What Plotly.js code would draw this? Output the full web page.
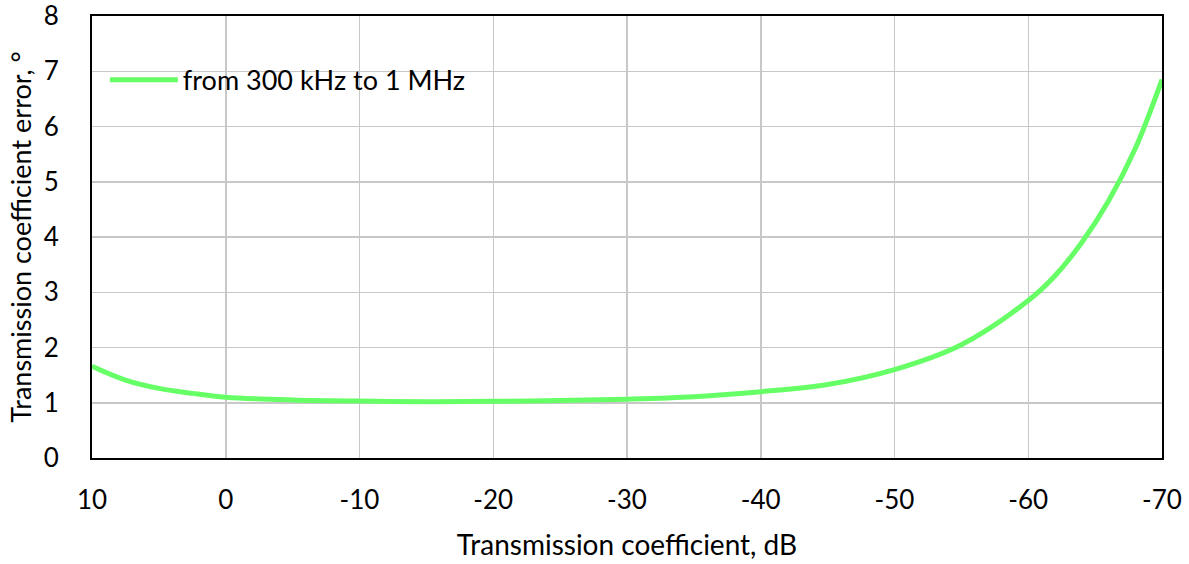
<!DOCTYPE html>
<html>
<head>
<meta charset="utf-8">
<script src="https://cdn.plot.ly/plotly-3.0.1.min.js"></script>
<style>html,body{margin:0;padding:0;background:#fff;}#chart{width:1189px;height:564px;}</style>
</head>
<body>
<div id="chart"></div>
<script>
const transmissionDb = [10, 7.5, 5, 2.5, 0, -5, -10, -15, -20, -25, -30, -35, -40, -45, -50, -55, -60, -62, -64, -66, -68, -70];
const errorDeg = [1.66, 1.41, 1.26, 1.17, 1.10, 1.05, 1.03, 1.02, 1.025, 1.04, 1.065, 1.11, 1.20, 1.33, 1.60, 2.05, 2.85, 3.3, 3.9, 4.65, 5.6, 6.85];
const seriesName = 'from 300 kHz to 1 MHz';
const xTicks = [10, 0, -10, -20, -30, -40, -50, -60, -70];
const yTicks = [0, 1, 2, 3, 4, 5, 6, 7, 8];

const font = 'Lato, "Noto Sans", sans-serif';

Plotly.newPlot('chart', [{
  x: transmissionDb,
  y: errorDeg,
  name: seriesName,
  type: 'scatter',
  mode: 'lines',
  line: {color: '#66ff66', width: 5, shape: 'spline', smoothing: 1.0},
  showlegend: true
}], {
  width: 1189, height: 564,
  margin: {l: 92, r: 27, t: 16, b: 106},
  paper_bgcolor: '#ffffff', plot_bgcolor: '#ffffff',
  font: {family: font, size: 26, color: '#000'},
  showlegend: true,
  legend: {x: 0.012, y: 0.855, xanchor: 'left', yanchor: 'middle', bgcolor: 'rgba(0,0,0,0)',
           font: {family: font, size: 27, color: '#000'}, itemwidth: 68, tracegroupgap: 0},
  xaxis: {
    range: [10, -70], tickvals: xTicks, ticktext: xTicks.map(String),
    showgrid: true, gridcolor: '#c8c8c8', gridwidth: 1.5,
    showline: true, linecolor: '#000', linewidth: 2, mirror: true,
    ticks: 'outside', ticklen: 18, tickcolor: 'rgba(0,0,0,0)',
    zeroline: false, ticklabeloverflow: 'allow',
    tickfont: {family: font, size: 26},
    title: {text: 'Transmission coefficient, dB', font: {family: font, size: 28}, standoff: 21}
  },
  yaxis: {
    range: [0, 8], tickvals: yTicks,
    showgrid: true, gridcolor: '#c8c8c8', gridwidth: 1.5,
    showline: true, linecolor: '#000', linewidth: 2, mirror: true,
    ticks: 'outside', ticklen: 26, tickcolor: 'rgba(0,0,0,0)',
    zeroline: false, ticklabeloverflow: 'allow',
    tickfont: {family: font, size: 26},
    title: {text: 'Transmission coefficient error, °', font: {family: font, size: 27}, standoff: 4}
  }
}, {displayModeBar: false, staticPlot: true});
</script>
</body>
</html>
